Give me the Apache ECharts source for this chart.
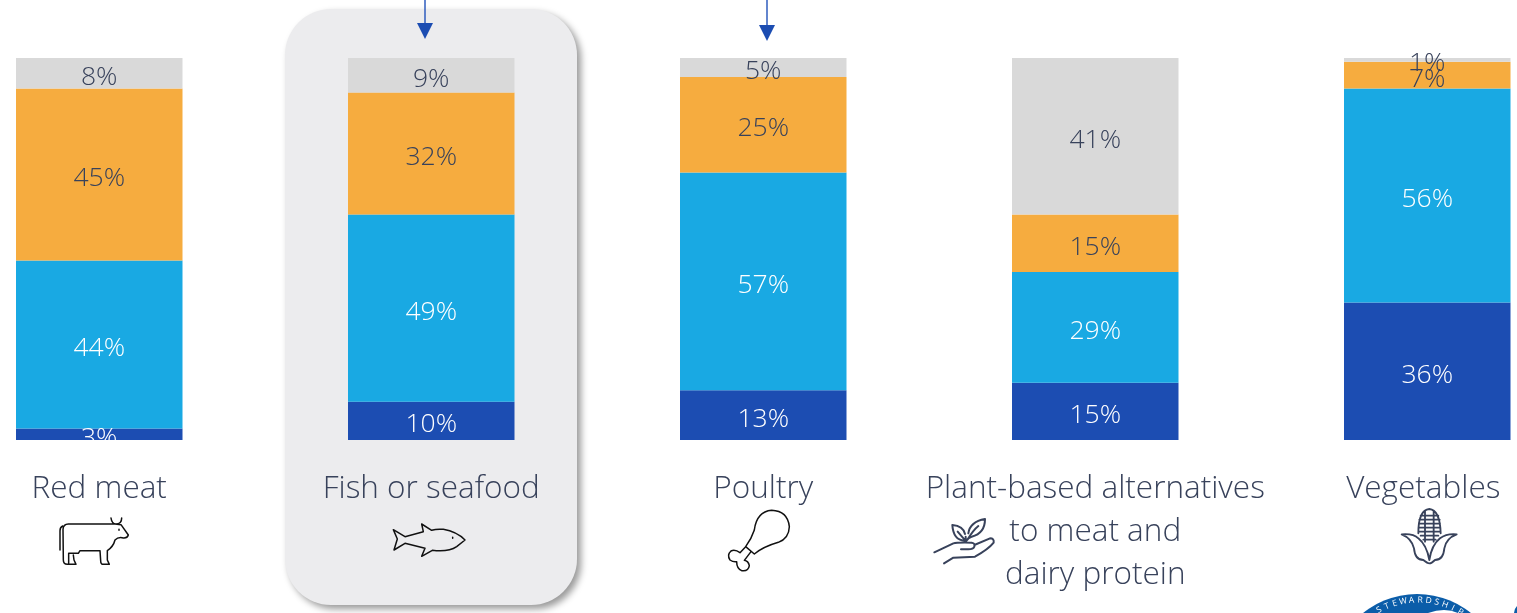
<!DOCTYPE html>
<html>
<head>
<meta charset="utf-8">
<style>html,body{margin:0;padding:0;background:#fff}#chart{width:1517px;height:613px}</style>
<script src="https://cdn.jsdelivr.net/npm/echarts@6/dist/echarts.min.js"></script>
</head>
<body>
<div id="chart"></div>
<script>
const categories = ['Red meat', 'Fish or seafood', 'Poultry', 'Plant-based alternatives\nto meat and\ndairy protein', 'Vegetables'];
const seriesDarkBlue = [3, 10, 13, 15, 36];
const seriesLightBlue = [44, 49, 57, 29, 56];
const seriesOrange = [45, 32, 25, 15, 7];
const seriesGrey = [8, 9, 5, 41, 1];

const ink = '#38425B';
const font = '"Open Sans", "Noto Sans", sans-serif';
const blue = '#1C4DB2';
const sealBlue = '#0B5DA9';

function band(name, data, color, labelColor) {
  return {
    name, type: 'bar', stack: 'share', data, barWidth: 166.5, clip: false,
    itemStyle: { color },
    label: {
      show: true, position: 'inside', distance: 0, offset: [0, 4],
      formatter: '{c}%', color: labelColor,
      fontFamily: font, fontWeight: 300, fontSize: 26.5
    }
  };
}

const iconPaths = {
  cow: 'M30,120 L30,62 Q30,52 38,48 ' +
    'M183,24 C185,38 190,42 198,42 C208,42 215,36 215,24 ' +
    'M56,163 L52,163 Q40,163 40,150 L39,58 Q40,42 55,42 L195,42 L213,44 L235,75 Q232,85 220,84 Q205,80 195,90 Q190,110 172,122 L172,150 L178,163 L160,163 Q152,163 152,152 L150,122 L90,122 L85,130 L56,130 L56,163 L78,163 L72,150 L70,135 ' +
    'M207,58 L207,61',
  fish: 'M240,75 Q215,50 175,43 Q155,41 140,46 L110,27 L115,50 L60,65 L25,44 L37,72 L27,105 L60,85 L120,100 L110,124 L142,106 Q190,112 215,95 Z ' +
    'M203,67 L203,70',
  drumstick: 'M92,125 Q110,100 118,75 Q125,20 170,16 Q218,18 223,65 Q222,100 190,112 Q145,125 118,147 Z ' +
    'M92,125 L75,143 Q60,132 48,138 Q35,150 45,165 Q55,172 65,170 Q65,190 80,197 Q100,200 103,182 Q100,168 88,166 L108,140',
  plantHand: 'M130,70 Q135,35 180,27 Q180,70 140,80 Q130,82 125,92 M128,88 Q145,60 160,48 ' +
    'M118,92 Q85,90 82,45 Q115,48 120,72 M118,88 L98,65 M122,80 L122,97 ' +
    'M28,127 L85,100 Q95,97 140,98 Q152,100 148,110 Q145,118 130,118 L108,118 ' +
    'M148,105 L195,85 Q208,85 206,98 Q190,118 150,140 L85,143 L57,160',
  corn: 'M85,85 Q85,15 118,12 Q150,15 152,85 ' +
    'M92,32 L145,32 M88,44 L149,44 M87,56 L150,56 M86,68 L151,68 M86,80 L151,80 M92,92 L145,92 M100,104 L137,104 ' +
    'M105,18 L105,110 M131,18 L131,110 ' +
    'M35,88 Q70,85 85,100 Q110,120 118,165 Q125,120 150,100 Q170,85 200,88 Q168,100 163,130 Q160,165 135,165 Q125,175 118,175 Q112,175 100,165 Q75,165 72,130 Q65,100 35,88 Z',
  sealWave: 'M1428,613 Q1445,607 1458,613 Z',
  sealEdge: 'M1517,606 Q1514,609 1514,613 L1517,613 Z'
};
Object.keys(iconPaths).forEach(function (key) {
  echarts.graphic.registerShape(key, echarts.graphic.extendPath(iconPaths[key]));
});

// Line icons are authored on a 3x grid and placed with a scale of one third.
function icon(x, y, type, stroke, lineWidth) {
  return {
    type, z: 6, x, y, scaleX: 1 / 3, scaleY: 1 / 3,
    style: { stroke, lineWidth, fill: 'none', lineJoin: 'round', lineCap: 'round' }
  };
}

// Lettering around the top of the certification seal
const sealText = 'STEWARDSHIP'.split('').map(function (ch, i) {
  const deg = (i - 5) * 6.1 + 1.5;
  const a = deg * Math.PI / 180;
  return {
    type: 'text', z: 8,
    x: 1418 + 80 * Math.sin(a), y: 680 - 80 * Math.cos(a),
    rotation: -a,
    style: { text: ch, fill: '#fff', fontFamily: font, fontSize: 8.5, align: 'center', verticalAlign: 'middle' }
  };
});

// The last category label sits slightly left of its column
const categoryData = categories.map(function (name, i) {
  return i === categories.length - 1
    ? { value: name, textStyle: { padding: [0, 8, 0, 0] } }
    : name;
});

const chart = echarts.init(document.getElementById('chart'), null, { renderer: 'canvas' });
chart.setOption({
  animation: false,
  backgroundColor: '#fff',
  // boundaryGap off: the first and last columns centre on the grid's edges
  grid: { left: 99.25, width: 1328, top: 58, height: 382 },
  xAxis: {
    type: 'category', data: categoryData, boundaryGap: false,
    axisLine: { show: false }, axisTick: { show: false },
    axisLabel: {
      interval: 0, margin: 28, color: ink, fontFamily: font, fontWeight: 300,
      fontSize: 31.5, lineHeight: 43, verticalAlign: 'top'
    }
  },
  yAxis: { type: 'value', min: 0, max: 100, show: false },
  series: [
    band('Dark blue', seriesDarkBlue, blue, '#fff'),
    band('Light blue', seriesLightBlue, '#19A9E3', '#fff'),
    band('Orange', seriesOrange, '#F6AC3F', ink),
    band('Grey', seriesGrey, '#D9D9D9', ink)
  ],
  graphic: [
    // highlight panel behind the second column
    { type: 'rect', z: -1, shape: { x: 285, y: 9, width: 292, height: 596, r: 46 },
      style: { fill: '#ECECEE', shadowBlur: 7, shadowOffsetX: 4, shadowOffsetY: 4, shadowColor: 'rgba(0,0,0,0.4)' } },
    // the lowest label is cut off at the foot of its bar
    { type: 'rect', z: 50, shape: { x: 14, y: 440, width: 172, height: 14 }, style: { fill: '#fff' } },
    // pointers
    { type: 'line', z: 5, shape: { x1: 425, y1: 0, x2: 425, y2: 24 }, style: { stroke: '#2F5DBE', lineWidth: 1.5 } },
    { type: 'polygon', z: 5, shape: { points: [[417, 23], [433, 23], [425, 39]] }, style: { fill: blue } },
    { type: 'line', z: 5, shape: { x1: 767, y1: 0, x2: 767, y2: 26 }, style: { stroke: '#2F5DBE', lineWidth: 1.5 } },
    { type: 'polygon', z: 5, shape: { points: [[759, 25], [775, 25], [767, 41]] }, style: { fill: blue } },
    // category icons
    icon(50, 510, 'cow', '#111', 4.5),
    icon(385, 515, 'fish', '#111', 4.5),
    icon(715, 505, 'drumstick', '#111', 4.5),
    icon(925, 510, 'plantHand', ink, 6),
    icon(1390, 505, 'corn', ink, 5.5),
    // seal at the lower right edge
    { type: 'circle', z: 7, shape: { cx: 1417, cy: 680, r: 86 }, style: { fill: sealBlue } },
    { type: 'sealWave', z: 8, style: { fill: '#fff' } },
    { type: 'sealEdge', z: 7, style: { fill: sealBlue } }
  ].concat(sealText)
});
</script>
</body>
</html>
